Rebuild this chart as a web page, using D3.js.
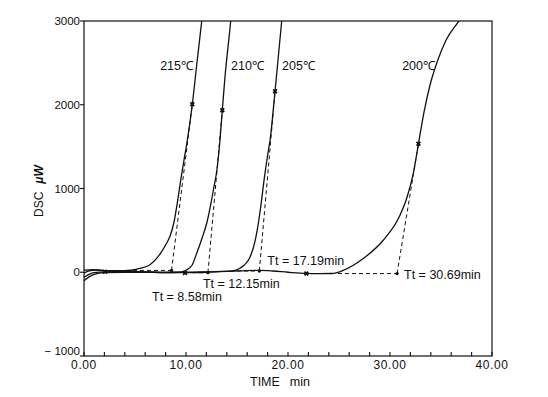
<!DOCTYPE html>
<html>
<head>
<meta charset="utf-8">
<script src="https://cdn.jsdelivr.net/npm/d3@7"></script>
<style>
  body { margin: 0; background: #fff; }
  text { font-family: "Liberation Sans", Arial, sans-serif; fill: #111; }
</style>
</head>
<body>
<div id="chart"></div>
<script>
// DSC isothermal curves: [time min, DSC uW]
const curve215 = [[0,-10],[0.5,15],[1,25],[2,20],[3,18],[4,18],[4.6,24],[5.5,45],[6.47,90],[7.45,215],[8.04,334],[8.43,430],[8.82,597],[9.19,860],[9.51,1122],[9.8,1337],[10.13,1576],[10.62,2006],[11.08,2507],[11.54,2997],[11.8,3300]];
const curve210 = [[0,-60],[0.5,-25],[1,-5],[2,5],[4,5],[6,0],[8,-5],[9.41,0],[10.0,24],[10.59,84],[11.05,227],[11.57,406],[12.03,585],[12.35,764],[12.68,979],[13.07,1257],[13.33,1576],[13.56,1934],[13.82,2328],[14.38,2997],[14.6,3300]];
const curve205 = [[0,25],[1,30],[2,20],[4,10],[6,5],[8,0],[10,0],[12,5],[13.5,10],[14.51,15],[15.29,48],[16.27,179],[16.93,466],[17.32,776],[17.65,1098],[17.97,1373],[18.24,1576],[18.73,2161],[19.38,2997],[19.6,3300]];
const curve200 = [[0,-100],[0.5,-55],[1,-25],[2,-5],[4,0],[6,0],[8,-5],[10,-5],[12,0],[14,10],[16,20],[17.2,22],[18.5,15],[20,0],[21.8,-14],[23,-16],[24.3,-15],[25.4,22],[27.38,164],[29.34,382],[30.98,681],[31.64,884],[32.28,1178],[32.79,1534],[33.33,1910],[33.92,2233],[34.61,2507],[35.49,2770],[36.7,2989],[37.84,3188]];

const curves = [curve215, curve210, curve205, curve200];
const tempLabels = ['215\u2103', '210\u2103', '205\u2103', '200\u2103'];

const onsetTimes = [8.58, 12.15, 17.19, 30.69];
const onsetLevels = [22, -5, 15, -16];
const baseFrom = [4.8, 9.9, 15.0, 24.9];
const peakMarks = [[10.62,2006],[13.56,1934],[18.73,2161],[32.79,1534]];
const baseMarks = [[2.06,5],[9.9,-8],[21.8,-14]];

const xTicks = [0, 10, 20, 30, 40];
const xMinor = d3.range(0, 40.01, 2);
const yTicks = [-1000, 0, 1000, 2000, 3000];

const W = 548, H = 397;
const x = d3.scaleLinear().domain([0, 40]).range([84, 492]);
const y = d3.scaleLinear().domain([-1000, 3000]).range([356, 21]);

const svg = d3.select('#chart').append('svg')
  .attr('width', W).attr('height', H);

svg.append('defs').append('clipPath').attr('id', 'plot')
  .append('rect')
  .attr('x', x(0)).attr('y', y(3000))
  .attr('width', x(40) - x(0)).attr('height', y(-1000) - y(3000));

// frame
svg.append('rect')
  .attr('x', x(0)).attr('y', y(3000))
  .attr('width', x(40) - x(0)).attr('height', y(-1000) - y(3000))
  .attr('fill', 'none').attr('stroke', '#111').attr('stroke-width', 1.2);

// y ticks (outside)
svg.append('g')
  .selectAll('line').data(yTicks).enter().append('line')
  .attr('x1', x(0) - 4).attr('x2', x(0))
  .attr('y1', d => y(d)).attr('y2', d => y(d))
  .attr('stroke', '#111').attr('stroke-width', 1.1);

svg.append('g')
  .selectAll('text').data(yTicks).enter().append('text')
  .attr('x', x(0) - 4)
  .attr('y', d => y(d) + (d === -1000 ? -5 : 0))
  .attr('dy', '0.35em')
  .attr('text-anchor', 'end')
  .attr('font-size', '11.5px')
  .text(d => d < 0 ? '\u2212 ' + Math.abs(d) : d);

// x ticks (inside, every 2 min)
svg.append('g')
  .selectAll('line').data(xMinor).enter().append('line')
  .attr('x1', d => x(d)).attr('x2', d => x(d))
  .attr('y1', y(-1000)).attr('y2', y(-1000) - 4)
  .attr('stroke', '#111').attr('stroke-width', 1.1);

svg.append('g')
  .selectAll('text').data(xTicks).enter().append('text')
  .attr('x', d => x(d))
  .attr('y', 369)
  .attr('text-anchor', 'middle')
  .attr('font-size', '12px')
  .attr('letter-spacing', '0.6px')
  .text(d => d.toFixed(2));

// axis titles
const xt = svg.append('text').attr('x', 250).attr('y', 386).attr('font-size', '12.5px');
xt.append('tspan').text('TIME');
xt.append('tspan').attr('dx', 10).text('min');

const yt = svg.append('text')
  .attr('transform', 'translate(42.5,217) rotate(-90)')
  .attr('font-size', '12px');
yt.append('tspan').text('DSC');
yt.append('tspan').attr('dx', 8).attr('font-style', 'italic').attr('font-weight', 'bold').text('\u03bcW');

const plot = svg.append('g').attr('clip-path', 'url(#plot)');

const line = d3.line()
  .x(d => x(d[0])).y(d => y(d[1]))
  .curve(d3.curveMonotoneX);

plot.selectAll('path.curve').data(curves).enter().append('path')
  .attr('class', 'curve')
  .attr('d', line)
  .attr('fill', 'none')
  .attr('stroke', '#111')
  .attr('stroke-width', 1.3);

// extrapolated baselines and tangents
const dash = '4,3';
onsetTimes.forEach((t, i) => {
  plot.append('line')
    .attr('x1', x(baseFrom[i])).attr('x2', x(t))
    .attr('y1', y(onsetLevels[i])).attr('y2', y(onsetLevels[i]))
    .attr('stroke', '#111').attr('stroke-width', 1)
    .attr('stroke-dasharray', dash);
  plot.append('line')
    .attr('x1', x(t)).attr('y1', y(onsetLevels[i]))
    .attr('x2', x(peakMarks[i][0])).attr('y2', y(peakMarks[i][1]))
    .attr('stroke', '#111').attr('stroke-width', 1)
    .attr('stroke-dasharray', dash);
  plot.append('circle')
    .attr('cx', x(t)).attr('cy', y(onsetLevels[i]))
    .attr('r', 1.7).attr('fill', '#111');
});

// x markers
const cross = d3.symbol().type(d3.symbolCross).size(16);
plot.selectAll('path.mark').data(peakMarks.concat(baseMarks)).enter().append('path')
  .attr('class', 'mark')
  .attr('d', cross)
  .attr('transform', d => `translate(${x(d[0])},${y(d[1])}) rotate(45)`)
  .attr('fill', '#111');

// temperature labels
const tempPos = [[193, 70, 'end'], [231, 70, 'start'], [282, 70, 'start'], [435, 70, 'end']];
svg.selectAll('text.temp').data(tempLabels).enter().append('text')
  .attr('class', 'temp')
  .attr('x', (d, i) => tempPos[i][0])
  .attr('y', (d, i) => tempPos[i][1])
  .attr('text-anchor', (d, i) => tempPos[i][2])
  .attr('font-size', '12.5px')
  .text(d => d);

// onset labels
const ttOffset = [[-19.5, 30.5], [-5, 15.5], [8, -6], [7, 5.5]];
svg.selectAll('text.tt').data(onsetTimes).enter().append('text')
  .attr('class', 'tt')
  .attr('x', (d, i) => x(d) + ttOffset[i][0])
  .attr('y', (d, i) => y(onsetLevels[i]) + ttOffset[i][1])
  .attr('font-size', '12.5px')
  .text(d => 'Tt = ' + d.toFixed(2) + 'min');
</script>
</body>
</html>
